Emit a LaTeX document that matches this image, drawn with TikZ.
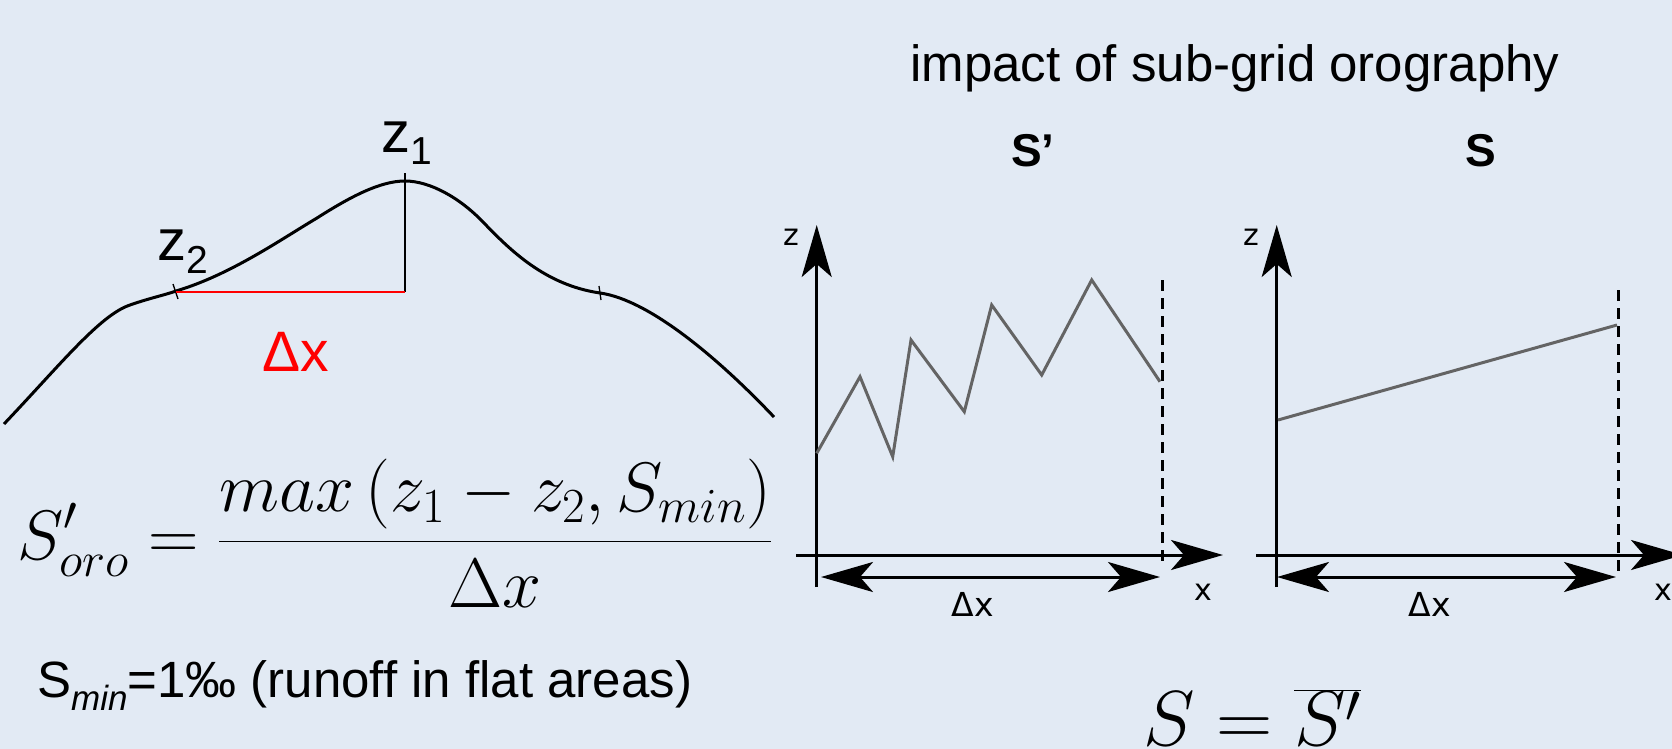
\RequirePackage{fix-cm}
\documentclass[tikz,border=0pt]{standalone}
\usepackage[no-math]{fontspec}
\usetikzlibrary{arrows.meta}
\newfontfamily\hv{Liberation Sans}
\newfontfamily\dv{DejaVu Sans}
\definecolor{bgcol}{RGB}{226,234,244}
\definecolor{greyline}{RGB}{100,100,100}
\tikzset{
  axis/.style={line width=3pt,-{Stealth[length=52pt,width=30pt,inset=13pt]}},
  dbl/.style={line width=3pt,{Stealth[length=52pt,width=30pt,inset=13pt]}-{Stealth[length=52pt,width=30pt,inset=13pt]}},
  dashv/.style={line width=3pt,dash pattern=on 11pt off 7pt},
  terrain/.style={line width=3pt,line join=round},
  tick/.style={line width=1.3pt},
  prof/.style={line width=3pt,greyline,line join=miter},
  lbl/.style={inner sep=0pt,anchor=base west},
  axlbl/.style={inner sep=0pt,font=\dv\fontsize{30}{32}\selectfont},
}
\begin{document}
\begin{tikzpicture}[x=1pt,y=-1pt]
\useasboundingbox (0,0) rectangle (1672,749);
\clip (0,0) rectangle (1672,749);
\fill[bgcol] (0,0) rectangle (1672,749);

% title and panel headings
\node[lbl] (title) at (910,82) {\hv\fontsize{51}{60}\selectfont impact of sub-grid orography};
\node[inner sep=0pt,anchor=base] (hsp) at (1033,166) {\hv\bfseries\fontsize{46}{50}\selectfont S’};
\node[inner sep=0pt,anchor=base] (hs) at (1481,166) {\hv\bfseries\fontsize{46}{50}\selectfont S};

% terrain curve
\coordinate (t0) at (4,424);
\coordinate (t1) at (130,305);
\coordinate (z2p) at (176,291);
\coordinate (t2) at (317,218);
\coordinate (z1top) at (405,181);
\coordinate (t3) at (483,222);
\coordinate (t4) at (600,293);
\coordinate (t5) at (774,417);
\draw[terrain] (t0) .. controls (60,365) and (100,315) .. (t1)
  .. controls (150,298) and (165,295) .. (z2p)
  .. controls (230,275) and (280,240) .. (t2)
  .. controls (350,197) and (380,181) .. (z1top)
  .. controls (430,181) and (460,198) .. (t3)
  .. controls (510,250) and (545,285) .. (t4)
  .. controls (650,300) and (720,360) .. (t5);
\coordinate (z2b) at (176,292);
\coordinate (z1p) at (405,292);
\coordinate (z1tk) at (405,173);
\draw[tick] (173,284) -- (178,299);
\draw[tick] (599,286) -- (601,300);
\draw[line width=2pt] (z1p) -- (z1tk);
\draw[red,line width=2.5pt] (z2b) -- (z1p);
\node[lbl] (z1) at (381,153) {\hv\fontsize{58}{60}\selectfont z\fontsize{39}{40}\selectfont\raisebox{-12pt}{1}};
\node[lbl] (z2) at (157,260) {\hv\fontsize{58}{60}\selectfont z\fontsize{39}{40}\selectfont\raisebox{-13pt}{2}};
\node[lbl,red] (dxred) at (262,371) {\hv\fontsize{57}{60}\selectfont Δx};

% formula
\node[lbl] (formula) at (17,559) {\fontsize{70}{80}\selectfont$\displaystyle S'_{oro} = \frac{max\left(z_1 - z_2, S_{min}\right)}{\Delta x}$};
\node[lbl] (smin) at (37,697) {\hv\fontsize{51}{54}\selectfont S{\fontsize{35}{35}\selectfont\itshape\raisebox{-13pt}{min}}=1‰ (runoff in flat areas)};

% left plot S'
\coordinate (a0) at (816.7,587);
\coordinate (a1) at (816.7,225);
\coordinate (b0) at (796,555);
\coordinate (b1) at (1223,555);
\draw[axis] (a0) -- (a1);
\draw[axis] (b0) -- (b1);
\coordinate (d0) at (1162,280);
\coordinate (d1) at (1162,567);
\draw[dashv] (d0) -- (d1);
\coordinate (e0) at (821,577);
\coordinate (e1) at (1160,577);
\draw[dbl] (e0) -- (e1);
\draw[prof] (816.7,453.3) -- (860,376.7) -- (892.7,456.7) -- (911,340) -- (964.3,411.7) -- (991.7,305) -- (1041.7,375) -- (1091.7,280) -- (1160,381.7);
\node[axlbl] (zl) at (791,237) {z};
\node[axlbl] (xl) at (1203,592) {x};
\node[axlbl,font=\dv\fontsize{33}{35}\selectfont] (dxl) at (973,604) {Δx};

% right plot S
\coordinate (f0) at (1276.7,587);
\coordinate (f1) at (1276.7,225);
\coordinate (g0) at (1256,555);
\coordinate (g1) at (1683,555);
\draw[axis] (f0) -- (f1);
\draw[axis] (g0) -- (g1);
\coordinate (h0) at (1618,290);
\coordinate (h1) at (1618,577);
\draw[dashv] (h0) -- (h1);
\coordinate (k0) at (1277,577);
\coordinate (k1) at (1616,577);
\draw[dbl] (k0) -- (k1);
\coordinate (p0) at (1278,420);
\coordinate (p1) at (1617,325);
\draw[prof] (p0) -- (p1);
\node[axlbl] (zr) at (1251,237) {z};
\node[axlbl] (xr) at (1663,592) {x};
\node[axlbl,font=\dv\fontsize{33}{35}\selectfont] (dxr) at (1430,604) {Δx};

% S = overline S'
\node[lbl] (seq) at (1143,745) {\fontsize{78}{90}\selectfont$S = \overline{S'}$};
\end{tikzpicture}
\end{document}
